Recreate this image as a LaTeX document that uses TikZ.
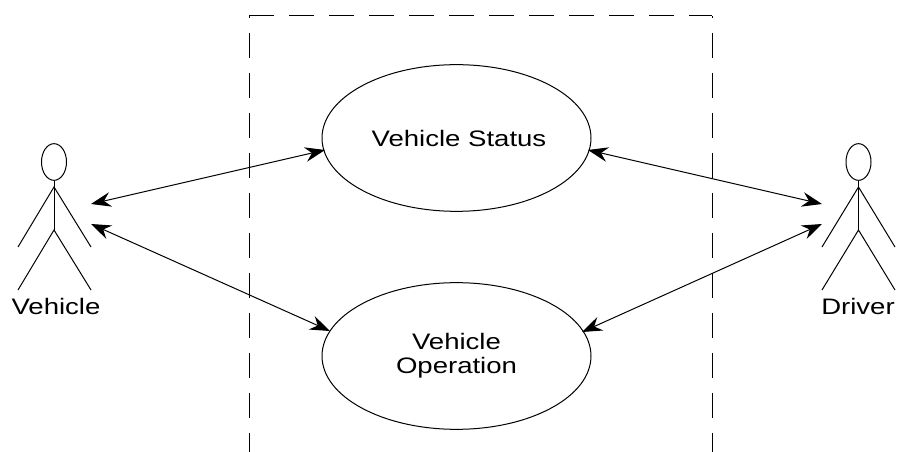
\documentclass[tikz,border=0pt]{standalone}
\usepackage{fontspec}
\setmainfont{Liberation Sans}[FakeStretch=1.23]
\usetikzlibrary{arrows.meta,shapes.geometric}
\tikzset{
  x=0.75pt,y=-0.75pt,
  every path/.style={line width=0.75pt,black},
  usecase/.style={draw,ellipse,inner sep=0pt,minimum width=201.75pt,minimum height=110pt,align=center,font=\fontsize{16.8}{18}\selectfont},
  actorname/.style={font=\fontsize{16.8}{18}\selectfont,inner sep=0pt},
  head/.style={draw,ellipse,inner sep=0pt,minimum width=18.75pt,minimum height=27.5pt},
  assoc/.style={{Stealth[length=15pt,width=11pt,inset=5pt]}-{Stealth[length=15pt,width=11pt,inset=5pt]}},
  boundary/.style={dash pattern=on 18.75pt off 11.25pt}
}
\begin{document}
\begin{tikzpicture}
\useasboundingbox (0,0) rectangle (897,452);
% system boundary
\draw[boundary,dash phase=0pt] (249,16) -- (712,16);
\draw[boundary,dash phase=-12.75pt] (249,16) -- (249,452);
\draw[boundary,dash phase=-12.75pt] (712,16) -- (712,452);
% use cases
\node[usecase] (status) at (456.5,138) {\hspace*{3.75pt}Vehicle Status};
\node[usecase] (operation) at (456.5,356) {Vehicle\\Operation};
% Vehicle actor
\node[head] (vhead) at (54,162) {};
\coordinate (vneck) at (54,187);
\coordinate (vhip) at (54,230);
\coordinate (vlh) at (18,247);
\coordinate (vrh) at (91,247);
\coordinate (vlf) at (18,290);
\coordinate (vrf) at (91,290);
\draw (vhead.south) -- (vhip);
\draw (vlh) -- (vneck) -- (vrh);
\draw (vlf) -- (vhip) -- (vrf);
\node[actorname] (vname) at (56,306) {Vehicle};
% Driver actor
\node[head] (dhead) at (858.5,162) {};
\coordinate (dneck) at (858.5,187);
\coordinate (dhip) at (858.5,230);
\coordinate (dlh) at (822,247);
\coordinate (drh) at (895,247);
\coordinate (dlf) at (822,290);
\coordinate (drf) at (895,290);
\draw (dhead.south) -- (dhip);
\draw (dlh) -- (dneck) -- (drh);
\draw (dlf) -- (dhip) -- (drf);
\node[actorname] (dname) at (858,306) {Driver};
% connector ends
\coordinate (v1) at (91,204);
\coordinate (v2) at (91,224);
\coordinate (d1) at (822,204);
\coordinate (d2) at (822,224);
\coordinate (s1) at (325,150);
\coordinate (s2) at (588,150);
\coordinate (o1) at (330,331);
\coordinate (o2) at (582,332);
\draw[assoc] (v1) -- (s1);
\draw[assoc] (v2) -- (o1);
\draw[assoc] (d1) -- (s2);
\draw[assoc] (d2) -- (o2);
\end{tikzpicture}
\end{document}
